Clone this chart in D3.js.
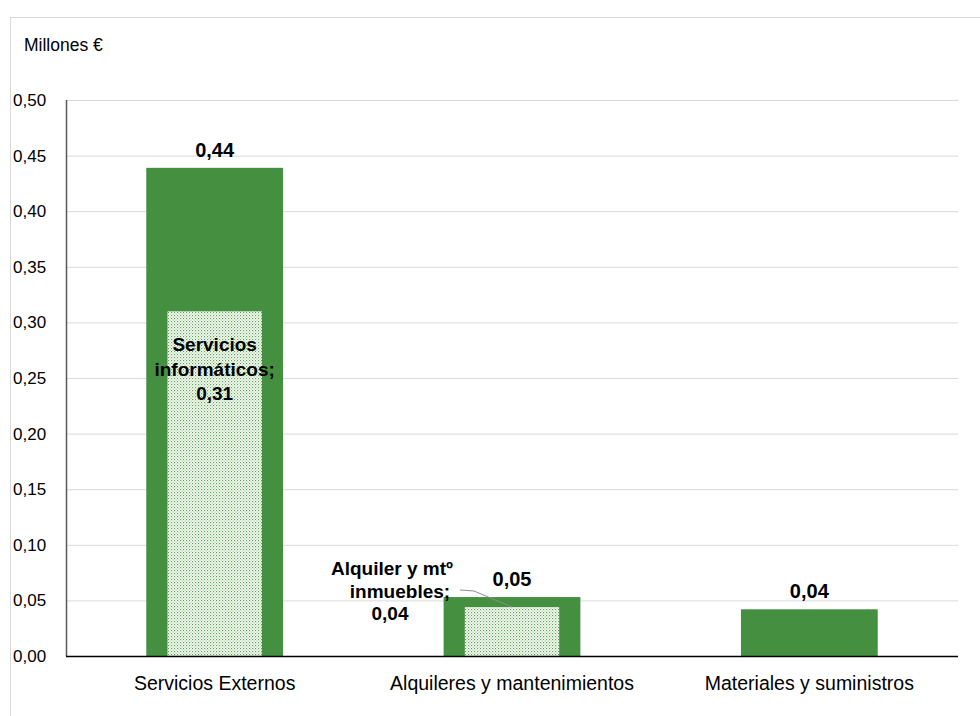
<!DOCTYPE html>
<html><head><meta charset="utf-8">
<script src="https://cdn.jsdelivr.net/npm/d3@7"></script>
<style>body{margin:0;background:#fff;} text{font-family:"Liberation Sans",Arial,sans-serif;}</style>
</head><body>
<svg id="c" width="980" height="716"></svg>
<script>
const categories = ["Servicios Externos", "Alquileres y mantenimientos", "Materiales y suministros"];
const totals = [0.439, 0.053, 0.042];
const totalLabels = ["0,44", "0,05", "0,04"];
const subValues = [0.310, 0.044, null];
const subLabels = [["Servicios", "informáticos;", "0,31"], ["Alquiler y mtº", "inmuebles;", "0,04"], null];
const yTicks = [0, 0.05, 0.10, 0.15, 0.20, 0.25, 0.30, 0.35, 0.40, 0.45, 0.50];
const unitLabel = "Millones €";

const svg = d3.select("#c");
const m = {l: 66, r: 958, t: 100, b: 656};
const green = "#448f40";

const defs = svg.append("defs");
const pat = defs.append("pattern").attr("id","dots").attr("patternUnits","userSpaceOnUse").attr("width",3).attr("height",3);
pat.append("rect").attr("width",3).attr("height",3).attr("fill","#ffffff");
pat.append("rect").attr("x",0).attr("y",0).attr("width",1.2).attr("height",1.2).attr("fill","#5aa34f");
pat.append("rect").attr("x",1.5).attr("y",1.5).attr("width",1.2).attr("height",1.2).attr("fill","#8cc47f");

// outer frame
svg.append("rect").attr("x",10.5).attr("y",17.5).attr("width",1000).attr("height",800)
  .attr("fill","none").attr("stroke","#d9d9d9");

const x = d3.scaleBand().domain(categories).range([m.l, m.r]).paddingInner(0.54).paddingOuter(0.27);
const y = d3.scaleLinear().domain([0, 0.5]).range([m.b, m.t]);

// gridlines
svg.append("g").selectAll("line").data(yTicks.filter(d=>d>0)).join("line")
  .attr("x1", m.l).attr("x2", m.r).attr("y1", d=>y(d)+0.5).attr("y2", d=>y(d)+0.5)
  .attr("stroke","#d9d9d9").attr("stroke-width",1);

// y tick labels
svg.append("g").selectAll("text").data(yTicks).join("text")
  .attr("x", 13).attr("y", d=>y(d)+6).attr("font-size",17).attr("fill","#000")
  .text(d=>d3.format(".2f")(d).replace(".", ","));

svg.append("text").attr("x",24).attr("y",51).attr("font-size",17.5).attr("fill","#000").text(unitLabel);

// bars
const bw = x.bandwidth();
svg.append("g").selectAll("rect").data(categories).join("rect")
  .attr("x", d=>x(d)).attr("width", bw)
  .attr("y", (d,i)=>y(totals[i])).attr("height",(d,i)=>y(0)-y(totals[i]))
  .attr("fill", green);

const innerW = bw*0.69;
svg.append("g").selectAll("rect").data(categories.filter((d,i)=>subValues[i]!=null)).join("rect")
  .attr("x", d=>x(d)+(bw-innerW)/2).attr("width", innerW)
  .attr("y", d=>y(subValues[categories.indexOf(d)])).attr("height", d=>y(0)-y(subValues[categories.indexOf(d)]))
  .attr("fill","url(#dots)");

// axes lines
svg.append("line").attr("x1",m.l+0.5).attr("x2",m.l+0.5).attr("y1",m.t).attr("y2",m.b).attr("stroke","#595959").attr("stroke-width",1.5);
svg.append("line").attr("x1",m.l).attr("x2",m.r).attr("y1",m.b+0.5).attr("y2",m.b+0.5).attr("stroke","#000").attr("stroke-width",1.5);

// category labels
svg.append("g").selectAll("text").data(categories).join("text")
  .attr("x", d=>x(d)+bw/2).attr("y", 690).attr("text-anchor","middle").attr("font-size",19.5).attr("fill","#000")
  .text(d=>d);

// total labels
svg.append("g").selectAll("text").data(categories).join("text")
  .attr("x", d=>x(d)+bw/2).attr("y",(d,i)=>y(totals[i])-11).attr("text-anchor","middle")
  .attr("font-size",20).attr("font-weight","bold").attr("fill","#000")
  .text((d,i)=>totalLabels[i]);

// sub labels
const c0 = x(categories[0])+bw/2;
const t0 = svg.append("text").attr("text-anchor","middle").attr("font-size",19).attr("font-weight","bold").attr("fill","#000");
subLabels[0].forEach((s,k)=>t0.append("tspan").attr("x",c0).attr("y",351+k*24.5).text(s));

const lx = 392;
const t1 = svg.append("text").attr("text-anchor","middle").attr("font-size",19).attr("font-weight","bold").attr("fill","#000");
subLabels[1].forEach((s,k)=>t1.append("tspan").attr("x",lx+(k==1?8:k==2?-2:0)).attr("y",575+k*22.5).text(s));

// leader line
const c1 = x(categories[1])+bw/2;
svg.append("polyline").attr("points",`${460},${590} ${474},${591} ${c1},${y(subValues[1])}`)
  .attr("fill","none").attr("stroke","#8c8c8c").attr("stroke-width",1);
</script>
</body></html>
